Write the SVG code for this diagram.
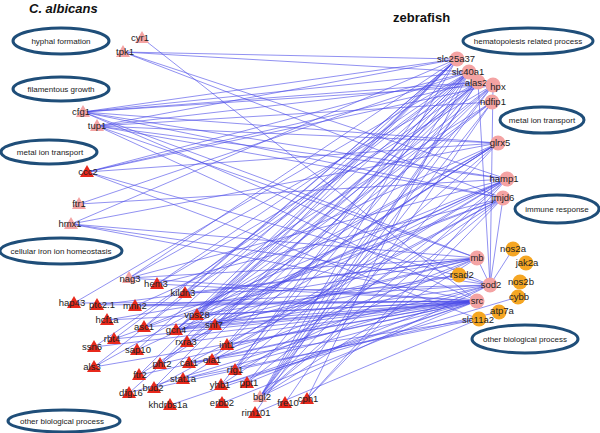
<svg xmlns="http://www.w3.org/2000/svg" xmlns:xlink="http://www.w3.org/1999/xlink" width="600" height="433" viewBox="0 0 600 433">
<style>
.bg{fill:#fff}
.e line{stroke:#4a4ae8;stroke-width:0.85;stroke-opacity:0.72}
.cat ellipse{fill:#fff;stroke:#1f4e79;stroke-width:3}
.cat text{font-family:"Liberation Sans",Arial,sans-serif;font-size:8px;fill:#1a1a1a;text-anchor:middle}
.lbl{font-family:"Liberation Sans",Arial,sans-serif;font-size:9.5px;fill:#222;text-anchor:middle}
.tr{fill:#e8291c}
.tp{fill:#f4a3a3}
.cp{fill:#f4a3a3}
.co{fill:#f5a623}
.title{font-family:"Liberation Sans",Arial,sans-serif;font-weight:bold;fill:#111}
</style>
<defs>
<path id="tri" d="M0,-7 L7,5 L-7,5 Z"/>
</defs>
<rect class="bg" width="600" height="433"/>
<text class="title" x="29" y="13" font-size="13" font-style="italic">C. albicans</text>
<text class="title" x="393" y="22" font-size="13">zebrafish</text>

<g class="cat">
<g id="cat-hyphal"><ellipse cx="61" cy="41" rx="48" ry="13"/><text x="61" y="44">hyphal formation</text></g>
<g id="cat-filament"><ellipse cx="61" cy="89" rx="48" ry="12"/><text x="61" y="92">filamentous growth</text></g>
<g id="cat-metal-l"><ellipse cx="49" cy="152" rx="48" ry="12"/><text x="50" y="155">metal ion transport</text></g>
<g id="cat-iron"><ellipse cx="61" cy="251" rx="61" ry="13"/><text x="61" y="254">cellular iron  ion homeostasis</text></g>
<g id="cat-other-l"><ellipse cx="64" cy="421" rx="56" ry="11"/><text x="62" y="424">other biological process</text></g>
<g id="cat-hema"><ellipse cx="528" cy="41" rx="65" ry="13"/><text x="528" y="44">hematopoiesis related process</text></g>
<g id="cat-metal-r"><ellipse cx="542" cy="120" rx="42" ry="13"/><text x="542" y="123">metal ion transport</text></g>
<g id="cat-immune"><ellipse cx="557" cy="209" rx="42" ry="14"/><text x="557" y="212">immune response</text></g>
<g id="cat-other-r"><ellipse cx="525" cy="339" rx="53" ry="14"/><text x="525" y="342">other biological process</text></g>
</g>

<g id="connectors" class="e">
<line x1="142" y1="38" x2="477" y2="301"/>
<line x1="123" y1="52" x2="457" y2="59"/>
<line x1="123" y1="52" x2="469" y2="72"/>
<line x1="123" y1="52" x2="507" y2="179"/>
<line x1="123" y1="52" x2="503" y2="198"/>
<line x1="83" y1="112" x2="457" y2="59"/>
<line x1="83" y1="112" x2="469" y2="72"/>
<line x1="83" y1="112" x2="478" y2="82"/>
<line x1="83" y1="112" x2="493" y2="85"/>
<line x1="83" y1="112" x2="498" y2="143"/>
<line x1="83" y1="112" x2="507" y2="179"/>
<line x1="83" y1="112" x2="503" y2="198"/>
<line x1="83" y1="112" x2="477" y2="258"/>
<line x1="83" y1="112" x2="490" y2="285"/>
<line x1="97" y1="126" x2="457" y2="59"/>
<line x1="97" y1="126" x2="478" y2="82"/>
<line x1="97" y1="126" x2="492" y2="102"/>
<line x1="97" y1="126" x2="498" y2="143"/>
<line x1="97" y1="126" x2="507" y2="179"/>
<line x1="97" y1="126" x2="503" y2="198"/>
<line x1="97" y1="126" x2="477" y2="258"/>
<line x1="97" y1="126" x2="477" y2="301"/>
<line x1="87" y1="172" x2="469" y2="72"/>
<line x1="87" y1="172" x2="478" y2="82"/>
<line x1="87" y1="172" x2="493" y2="85"/>
<line x1="87" y1="172" x2="498" y2="143"/>
<line x1="87" y1="172" x2="490" y2="285"/>
<line x1="87" y1="172" x2="479" y2="319"/>
<line x1="79" y1="204" x2="469" y2="72"/>
<line x1="79" y1="204" x2="507" y2="179"/>
<line x1="71" y1="224" x2="457" y2="59"/>
<line x1="71" y1="224" x2="498" y2="143"/>
<line x1="71" y1="224" x2="477" y2="258"/>
<line x1="71" y1="224" x2="490" y2="285"/>
<line x1="71" y1="224" x2="477" y2="301"/>
<line x1="129" y1="278" x2="457" y2="59"/>
<line x1="129" y1="278" x2="478" y2="82"/>
<line x1="129" y1="278" x2="507" y2="179"/>
<line x1="129" y1="278" x2="477" y2="258"/>
<line x1="129" y1="278" x2="477" y2="301"/>
<line x1="157" y1="284" x2="469" y2="72"/>
<line x1="157" y1="284" x2="493" y2="85"/>
<line x1="157" y1="284" x2="503" y2="198"/>
<line x1="157" y1="284" x2="477" y2="301"/>
<line x1="185" y1="293" x2="457" y2="59"/>
<line x1="185" y1="293" x2="492" y2="102"/>
<line x1="185" y1="293" x2="477" y2="258"/>
<line x1="185" y1="293" x2="490" y2="285"/>
<line x1="74" y1="303" x2="469" y2="72"/>
<line x1="74" y1="303" x2="477" y2="301"/>
<line x1="97" y1="305" x2="477" y2="258"/>
<line x1="97" y1="305" x2="477" y2="301"/>
<line x1="135" y1="306" x2="498" y2="143"/>
<line x1="135" y1="306" x2="490" y2="285"/>
<line x1="135" y1="306" x2="477" y2="301"/>
<line x1="107" y1="320" x2="477" y2="301"/>
<line x1="107" y1="320" x2="477" y2="258"/>
<line x1="144" y1="327" x2="457" y2="59"/>
<line x1="144" y1="327" x2="507" y2="179"/>
<line x1="144" y1="327" x2="477" y2="301"/>
<line x1="114" y1="339" x2="469" y2="72"/>
<line x1="114" y1="339" x2="503" y2="198"/>
<line x1="114" y1="339" x2="477" y2="301"/>
<line x1="94" y1="347" x2="478" y2="82"/>
<line x1="94" y1="347" x2="477" y2="301"/>
<line x1="137" y1="350" x2="457" y2="59"/>
<line x1="137" y1="350" x2="507" y2="179"/>
<line x1="94" y1="367" x2="469" y2="72"/>
<line x1="94" y1="367" x2="498" y2="143"/>
<line x1="94" y1="367" x2="477" y2="301"/>
<line x1="176" y1="330" x2="457" y2="59"/>
<line x1="176" y1="330" x2="469" y2="72"/>
<line x1="176" y1="330" x2="478" y2="82"/>
<line x1="176" y1="330" x2="493" y2="85"/>
<line x1="176" y1="330" x2="507" y2="179"/>
<line x1="176" y1="330" x2="477" y2="258"/>
<line x1="176" y1="330" x2="490" y2="285"/>
<line x1="176" y1="330" x2="477" y2="301"/>
<line x1="197" y1="315" x2="457" y2="59"/>
<line x1="197" y1="315" x2="478" y2="82"/>
<line x1="197" y1="315" x2="492" y2="102"/>
<line x1="197" y1="315" x2="498" y2="143"/>
<line x1="197" y1="315" x2="503" y2="198"/>
<line x1="197" y1="315" x2="477" y2="301"/>
<line x1="215" y1="325" x2="469" y2="72"/>
<line x1="215" y1="325" x2="493" y2="85"/>
<line x1="215" y1="325" x2="498" y2="143"/>
<line x1="215" y1="325" x2="477" y2="258"/>
<line x1="215" y1="325" x2="477" y2="301"/>
<line x1="187" y1="342" x2="492" y2="102"/>
<line x1="187" y1="342" x2="507" y2="179"/>
<line x1="187" y1="342" x2="477" y2="301"/>
<line x1="160" y1="364" x2="457" y2="59"/>
<line x1="160" y1="364" x2="498" y2="143"/>
<line x1="160" y1="364" x2="490" y2="285"/>
<line x1="189" y1="363" x2="478" y2="82"/>
<line x1="189" y1="363" x2="503" y2="198"/>
<line x1="189" y1="363" x2="477" y2="301"/>
<line x1="212" y1="360" x2="469" y2="72"/>
<line x1="212" y1="360" x2="477" y2="258"/>
<line x1="227" y1="345" x2="493" y2="85"/>
<line x1="227" y1="345" x2="507" y2="179"/>
<line x1="227" y1="345" x2="477" y2="301"/>
<line x1="139" y1="375" x2="457" y2="59"/>
<line x1="139" y1="375" x2="498" y2="143"/>
<line x1="139" y1="375" x2="477" y2="301"/>
<line x1="154" y1="388" x2="469" y2="72"/>
<line x1="154" y1="388" x2="503" y2="198"/>
<line x1="129" y1="393" x2="478" y2="82"/>
<line x1="129" y1="393" x2="490" y2="285"/>
<line x1="183" y1="379" x2="507" y2="179"/>
<line x1="183" y1="379" x2="477" y2="301"/>
<line x1="183" y1="379" x2="479" y2="319"/>
<line x1="170" y1="405" x2="477" y2="301"/>
<line x1="235" y1="370" x2="457" y2="59"/>
<line x1="235" y1="370" x2="478" y2="82"/>
<line x1="235" y1="370" x2="498" y2="143"/>
<line x1="235" y1="370" x2="477" y2="258"/>
<line x1="221" y1="385" x2="469" y2="72"/>
<line x1="221" y1="385" x2="503" y2="198"/>
<line x1="221" y1="385" x2="477" y2="301"/>
<line x1="247" y1="383" x2="493" y2="85"/>
<line x1="247" y1="383" x2="507" y2="179"/>
<line x1="247" y1="383" x2="490" y2="285"/>
<line x1="222" y1="403" x2="477" y2="301"/>
<line x1="260" y1="397" x2="457" y2="59"/>
<line x1="260" y1="397" x2="469" y2="72"/>
<line x1="260" y1="397" x2="478" y2="82"/>
<line x1="260" y1="397" x2="493" y2="85"/>
<line x1="260" y1="397" x2="492" y2="102"/>
<line x1="260" y1="397" x2="498" y2="143"/>
<line x1="260" y1="397" x2="507" y2="179"/>
<line x1="260" y1="397" x2="503" y2="198"/>
<line x1="260" y1="397" x2="477" y2="258"/>
<line x1="260" y1="397" x2="490" y2="285"/>
<line x1="255" y1="413" x2="478" y2="82"/>
<line x1="255" y1="413" x2="479" y2="319"/>
<line x1="285" y1="403" x2="492" y2="102"/>
<line x1="307" y1="399" x2="469" y2="72"/>
<line x1="307" y1="399" x2="507" y2="179"/>
<line x1="307" y1="399" x2="503" y2="198"/>
<line x1="459" y1="275" x2="176" y2="330"/>
<line x1="459" y1="275" x2="197" y2="315"/>
<line x1="513" y1="249" x2="490" y2="285"/>
<line x1="477" y1="258" x2="490" y2="285"/>
<line x1="503" y1="198" x2="490" y2="285"/>
<line x1="493" y1="85" x2="490" y2="285"/>
<line x1="478" y1="82" x2="490" y2="285"/>
<line x1="518" y1="297" x2="221" y2="385"/>
<line x1="499" y1="312" x2="154" y2="388"/>
<line x1="479" y1="319" x2="189" y2="363"/>
</g>

<g id="nodes-left">
<g id="n-cyr1"><use xlink:href="#tri" x="142" y="38" class="tp"/><text class="lbl" x="140" y="41">cyr1</text></g>
<g id="n-tpk1"><use xlink:href="#tri" x="123" y="52" class="tp"/><text class="lbl" x="125" y="55">tpk1</text></g>
<g id="n-cfg1"><use xlink:href="#tri" x="83" y="112" class="tp"/><text class="lbl" x="81" y="115">cfg1</text></g>
<g id="n-tup1"><use xlink:href="#tri" x="97" y="126" class="tp"/><text class="lbl" x="97" y="129">tup1</text></g>
<g id="n-ccc2"><use xlink:href="#tri" x="87" y="172" class="tr"/><text class="lbl" x="88" y="175">ccc2</text></g>
<g id="n-ftr1"><use xlink:href="#tri" x="79" y="204" class="tp"/><text class="lbl" x="79" y="207">ftr1</text></g>
<g id="n-hmx1"><use xlink:href="#tri" x="71" y="224" class="tp"/><text class="lbl" x="70" y="227">hmx1</text></g>
<g id="n-nag3"><use xlink:href="#tri" x="129" y="278" class="tp"/><text class="lbl" x="130" y="282">nag3</text></g>
<g id="n-hem3"><use xlink:href="#tri" x="157" y="284" class="tr"/><text class="lbl" x="156" y="287">hem3</text></g>
<g id="n-kildn3"><use xlink:href="#tri" x="185" y="293" class="tr"/><text class="lbl" x="183" y="296">kildn3</text></g>
<g id="n-hap43"><use xlink:href="#tri" x="74" y="303" class="tr"/><text class="lbl" x="72" y="306">hap43</text></g>
<g id="n-ptc2.1"><use xlink:href="#tri" x="97" y="305" class="tr"/><text class="lbl" x="102" y="308">ptc2.1</text></g>
<g id="n-mnn2"><use xlink:href="#tri" x="135" y="306" class="tr"/><text class="lbl" x="135" y="309">mnn2</text></g>
<g id="n-hcf1a"><use xlink:href="#tri" x="107" y="320" class="tr"/><text class="lbl" x="107" y="323">hcf1a</text></g>
<g id="n-asc1"><use xlink:href="#tri" x="144" y="327" class="tr"/><text class="lbl" x="144" y="330">asc1</text></g>
<g id="n-gcn4"><use xlink:href="#tri" x="176" y="330" class="tr"/><text class="lbl" x="176" y="333">gcn4</text></g>
<g id="n-vps28"><use xlink:href="#tri" x="197" y="315" class="tr"/><text class="lbl" x="197" y="318">vps28</text></g>
<g id="n-snf7"><use xlink:href="#tri" x="215" y="325" class="tr"/><text class="lbl" x="214" y="328">snf7</text></g>
<g id="n-rbt4"><use xlink:href="#tri" x="114" y="339" class="tr"/><text class="lbl" x="112" y="342">rbt4</text></g>
<g id="n-ssn6"><use xlink:href="#tri" x="94" y="347" class="tr"/><text class="lbl" x="92" y="350">ssn6</text></g>
<g id="n-sap10"><use xlink:href="#tri" x="137" y="350" class="tr"/><text class="lbl" x="138" y="353">sap10</text></g>
<g id="n-rxra3"><use xlink:href="#tri" x="187" y="342" class="tr"/><text class="lbl" x="186" y="345">rxra3</text></g>
<g id="n-int1"><use xlink:href="#tri" x="227" y="345" class="tr"/><text class="lbl" x="227" y="348">int1</text></g>
<g id="n-als3"><use xlink:href="#tri" x="94" y="367" class="tr"/><text class="lbl" x="92" y="370">als3</text></g>
<g id="n-phr2"><use xlink:href="#tri" x="160" y="364" class="tr"/><text class="lbl" x="162" y="367">phr2</text></g>
<g id="n-cat1"><use xlink:href="#tri" x="189" y="363" class="tr"/><text class="lbl" x="189" y="366">cat1</text></g>
<g id="n-ola1"><use xlink:href="#tri" x="212" y="360" class="tr"/><text class="lbl" x="212" y="363">ola1</text></g>
<g id="n-ftr2"><use xlink:href="#tri" x="139" y="375" class="tr"/><text class="lbl" x="140" y="378">ftr2</text></g>
<g id="n-stat1a"><use xlink:href="#tri" x="183" y="379" class="tr"/><text class="lbl" x="183" y="382">stat1a</text></g>
<g id="n-rfg1"><use xlink:href="#tri" x="235" y="370" class="tr"/><text class="lbl" x="235" y="373">rfg1</text></g>
<g id="n-yhb1"><use xlink:href="#tri" x="221" y="385" class="tr"/><text class="lbl" x="220" y="388">yhb1</text></g>
<g id="n-ppt1"><use xlink:href="#tri" x="247" y="383" class="tr"/><text class="lbl" x="249" y="386">ppt1</text></g>
<g id="n-bud2"><use xlink:href="#tri" x="154" y="388" class="tr"/><text class="lbl" x="153" y="391">bud2</text></g>
<g id="n-dfg16"><use xlink:href="#tri" x="129" y="393" class="tr"/><text class="lbl" x="131" y="396">dfg16</text></g>
<g id="n-khdrbs1a"><use xlink:href="#tri" x="170" y="405" class="tr"/><text class="lbl" x="168" y="408">khdrbs1a</text></g>
<g id="n-erbb2"><use xlink:href="#tri" x="222" y="403" class="tr"/><text class="lbl" x="222" y="406">erbb2</text></g>
<g id="n-bgl2"><use xlink:href="#tri" x="260" y="397" class="tp"/><text class="lbl" x="262" y="400">bgl2</text></g>
<g id="n-rim101"><use xlink:href="#tri" x="255" y="413" class="tr"/><text class="lbl" x="256" y="416">rim101</text></g>
<g id="n-fre10"><use xlink:href="#tri" x="285" y="403" class="tr"/><text class="lbl" x="288" y="406">fre10</text></g>
<g id="n-cph1"><use xlink:href="#tri" x="307" y="399" class="tr"/><text class="lbl" x="308" y="402">cph1</text></g>
</g>

<g id="nodes-right">
<g id="n-slc25a37"><circle cx="457" cy="59" r="7.5" class="cp"/><text class="lbl" x="456" y="62">slc25a37</text></g>
<g id="n-slc40a1"><circle cx="469" cy="72" r="7.5" class="cp"/><text class="lbl" x="468" y="75">slc40a1</text></g>
<g id="n-alas2"><circle cx="478" cy="82" r="7.5" class="cp"/><text class="lbl" x="476" y="86">alas2</text></g>
<g id="n-hpx"><circle cx="493" cy="85" r="7.5" class="cp"/><text class="lbl" x="498" y="90">hpx</text></g>
<g id="n-ndfip1"><circle cx="492" cy="102" r="7.5" class="cp"/><text class="lbl" x="493" y="105">ndfip1</text></g>
<g id="n-glrx5"><circle cx="498" cy="143" r="7.5" class="cp"/><text class="lbl" x="500" y="146">glrx5</text></g>
<g id="n-hamp1"><circle cx="507" cy="179" r="7.5" class="cp"/><text class="lbl" x="504" y="182">hamp1</text></g>
<g id="n-jmjd6"><circle cx="503" cy="198" r="7.5" class="cp"/><text class="lbl" x="503" y="201">jmjd6</text></g>
<g id="n-mb"><circle cx="477" cy="258" r="7.5" class="cp"/><text class="lbl" x="477" y="261">mb</text></g>
<g id="n-nos2a"><circle cx="513" cy="249" r="7.5" class="co"/><text class="lbl" x="513" y="252">nos2a</text></g>
<g id="n-jak2a"><circle cx="526" cy="263" r="7.5" class="co"/><text class="lbl" x="527" y="266">jak2a</text></g>
<g id="n-rsad2"><circle cx="459" cy="275" r="7.5" class="co"/><text class="lbl" x="462" y="278">rsad2</text></g>
<g id="n-sod2"><circle cx="490" cy="285" r="7.5" class="cp"/><text class="lbl" x="491" y="288">sod2</text></g>
<g id="n-nos2b"><circle cx="520" cy="282" r="7.5" class="co"/><text class="lbl" x="521" y="285">nos2b</text></g>
<g id="n-cybb"><circle cx="518" cy="297" r="7.5" class="co"/><text class="lbl" x="519" y="300">cybb</text></g>
<g id="n-src"><circle cx="477" cy="301" r="7.5" class="cp"/><text class="lbl" x="477" y="304">src</text></g>
<g id="n-atp7a"><circle cx="499" cy="312" r="7.5" class="co"/><text class="lbl" x="502" y="314">atp7a</text></g>
<g id="n-slc11a2"><circle cx="479" cy="319" r="7.5" class="co"/><text class="lbl" x="478" y="323">slc11a2</text></g>
</g>
</svg>
